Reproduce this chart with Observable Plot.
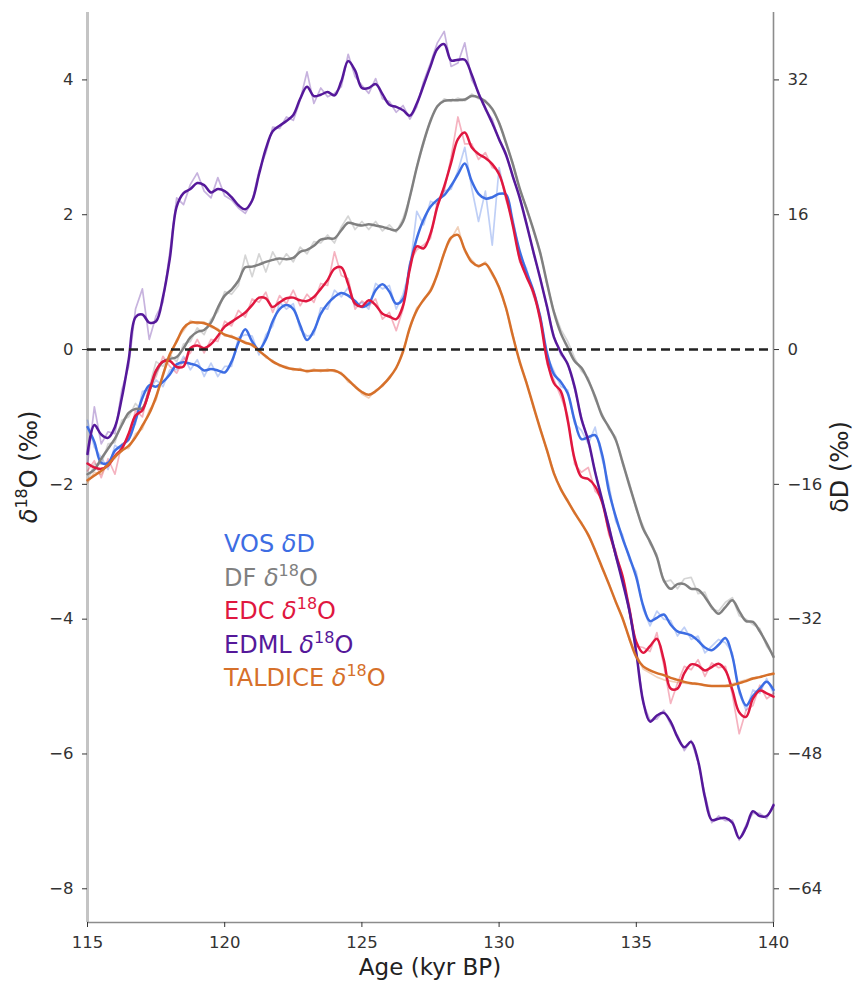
<!DOCTYPE html>
<html><head><meta charset="utf-8">
<script src="https://cdn.jsdelivr.net/npm/d3@7"></script>
<script src="https://cdn.jsdelivr.net/npm/@observablehq/plot@0.6"></script>
<style>body{margin:0;background:#fff;} svg{display:block}</style>
</head><body><div id="chart"></div>
<script>
// Age grid (kyr BP)
const ages = [
 115,115.25,115.5,115.75,116,116.25,116.5,116.75,117,117.25,
 117.5,117.75,118,118.25,118.5,118.75,119,119.25,119.5,119.75,
 120,120.25,120.5,120.75,121,121.25,121.5,121.75,122,122.25,
 122.5,122.75,123,123.25,123.5,123.75,124,124.25,124.5,124.75,
 125,125.25,125.5,125.75,126,126.25,126.5,126.75,127,127.25,
 127.5,127.75,128,128.25,128.5,128.75,129,129.25,129.5,129.75,
 130,130.25,130.5,130.75,131,131.25,131.5,131.75,132,132.25,
 132.5,132.75,133,133.25,133.5,133.75,134,134.25,134.5,134.75,
 135,135.25,135.5,135.75,136,136.25,136.5,136.75,137,137.25,
 137.5,137.75,138,138.25,138.5,138.75,139,139.25,139.5,139.75,
 140];

// VOS δD (scaled to δ18O units), smoothed and raw
const vosSmooth = [
 -1.15,-1.37,-1.68,-1.68,-1.50,-1.42,-1.33,-1.05,-0.72,-0.53,
 -0.55,-0.48,-0.37,-0.22,-0.19,-0.21,-0.24,-0.31,-0.29,-0.31,
 -0.34,-0.18,0.10,0.30,0.12,0.00,0.15,0.42,0.60,0.66,
 0.60,0.36,0.14,0.28,0.53,0.68,0.78,0.84,0.80,0.72,
 0.63,0.68,0.88,0.97,0.86,0.68,0.75,1.25,1.65,1.93,
 2.12,2.22,2.29,2.43,2.60,2.76,2.50,2.31,2.24,2.26,
 2.31,2.30,1.88,1.46,1.15,0.87,0.48,-0.06,-0.37,-0.48,
 -0.65,-1.05,-1.33,-1.30,-1.27,-1.55,-2.10,-2.48,-2.80,-3.08,
 -3.38,-3.80,-4.03,-3.98,-3.93,-4.08,-4.18,-4.21,-4.24,-4.32,
 -4.42,-4.46,-4.38,-4.28,-4.55,-5.05,-5.28,-5.14,-5.03,-4.93,
 -5.05];
const vosRaw = [
 -1.05,-1.45,-1.60,-1.78,-1.42,-1.50,-1.25,-1.10,-0.62,-0.60,
 -0.45,-0.55,-0.30,-0.30,-0.10,-0.30,-0.15,-0.40,-0.20,-0.40,
 -0.25,-0.25,0.18,0.22,0.20,-0.08,0.22,0.35,0.70,0.60,
 0.68,0.30,0.20,0.22,0.62,0.60,0.88,0.78,0.92,0.65,
 0.70,0.60,0.98,0.90,0.95,0.60,0.82,1.20,2.05,1.85,
 2.20,2.15,2.35,2.38,2.65,3.00,2.40,1.90,2.35,1.55,
 2.70,2.25,1.95,1.40,1.20,0.82,0.52,-0.10,-0.32,-0.55,
 -0.60,-1.10,-1.20,-1.40,-1.15,-1.62,-2.00,-2.55,-2.75,-3.12,
 -3.30,-3.85,-4.10,-3.88,-4.00,-4.02,-4.25,-4.12,-4.30,-4.25,
 -4.50,-4.40,-4.30,-4.35,-4.50,-5.10,-5.35,-5.05,-5.10,-4.88,
 -5.10];

// DF δ18O
const dfSmooth = [
 -1.85,-1.78,-1.62,-1.47,-1.32,-1.12,-0.94,-0.88,-0.87,-0.62,
 -0.33,-0.18,-0.14,-0.11,0.02,0.18,0.26,0.29,0.40,0.62,
 0.80,0.89,1.02,1.22,1.23,1.26,1.30,1.33,1.35,1.34,
 1.36,1.45,1.48,1.54,1.63,1.65,1.65,1.77,1.88,1.86,
 1.84,1.86,1.84,1.82,1.79,1.77,1.90,2.27,2.70,3.08,
 3.39,3.61,3.69,3.70,3.70,3.71,3.76,3.74,3.68,3.57,
 3.36,3.07,2.75,2.39,2.09,1.78,1.43,0.98,0.55,0.24,
 0.03,-0.17,-0.27,-0.46,-0.70,-0.98,-1.15,-1.34,-1.67,-2.02,
 -2.35,-2.66,-2.85,-3.08,-3.42,-3.55,-3.48,-3.48,-3.55,-3.56,
 -3.67,-3.82,-3.92,-3.82,-3.72,-3.88,-4.03,-4.04,-4.18,-4.36,
 -4.56];
const dfRaw = [
 -1.95,-1.70,-1.70,-1.40,-1.38,-1.05,-1.00,-0.80,-0.92,-0.55,
 -0.18,-0.25,-0.08,-0.18,0.08,0.12,0.32,0.22,0.45,0.56,
 0.86,0.82,0.95,1.40,1.08,1.42,1.15,1.45,1.26,1.42,
 1.30,1.52,1.42,1.60,1.58,1.70,1.58,1.82,1.98,1.78,
 1.90,1.78,1.90,1.76,1.85,1.74,1.95,2.25,2.72,3.05,
 3.42,3.60,3.72,3.68,3.73,3.69,3.79,3.72,3.70,3.55,
 3.38,3.05,2.77,2.37,2.11,1.76,1.45,0.96,0.57,0.30,
 0.12,-0.12,-0.32,-0.42,-0.74,-0.95,-1.18,-1.30,-1.70,-1.98,
 -2.38,-2.62,-2.88,-3.04,-3.45,-3.42,-3.55,-3.40,-3.38,-3.62,
 -3.60,-3.85,-3.88,-3.75,-3.68,-3.95,-4.00,-4.08,-4.14,-4.40,
 -4.54];

// EDC δ18O
const edcSmooth = [
 -1.69,-1.75,-1.77,-1.72,-1.58,-1.47,-1.25,-0.98,-0.90,-0.62,
 -0.31,-0.18,-0.17,-0.26,-0.25,0.02,0.06,0.02,0.08,0.20,
 0.34,0.41,0.48,0.55,0.66,0.77,0.76,0.63,0.70,0.76,
 0.77,0.73,0.72,0.78,0.90,1.03,1.20,1.22,0.97,0.68,
 0.64,0.73,0.66,0.53,0.49,0.45,0.65,1.20,1.53,1.50,
 1.72,2.12,2.42,2.77,3.12,3.22,3.00,2.90,2.84,2.75,
 2.60,2.28,1.84,1.35,1.08,0.85,0.44,-0.16,-0.50,-0.62,
 -1.05,-1.62,-1.89,-1.92,-2.03,-2.26,-2.68,-3.04,-3.36,-3.86,
 -4.34,-4.50,-4.40,-4.29,-4.60,-5.03,-5.03,-4.80,-4.67,-4.69,
 -4.76,-4.71,-4.66,-4.76,-5.05,-5.38,-5.45,-5.18,-5.06,-5.10,
 -5.15];
const edcRaw = [
 -1.80,-1.65,-1.90,-1.62,-1.85,-1.40,-1.35,-0.90,-1.00,-0.55,
 -0.40,-0.10,-0.25,-0.35,-0.15,-0.05,0.15,-0.05,0.15,0.12,
 0.42,0.35,0.58,0.48,0.75,0.70,0.85,0.55,0.80,0.68,
 0.88,0.65,0.82,0.70,0.98,0.95,1.45,1.10,1.05,0.60,
 0.72,0.65,0.75,0.45,0.55,0.28,0.60,1.30,1.48,1.55,
 1.65,2.20,2.35,2.85,3.45,3.05,3.05,2.82,2.92,2.70,
 2.65,2.22,1.90,1.30,1.12,0.80,0.50,-0.22,-0.45,-0.70,
 -0.98,-1.70,-1.82,-1.75,-2.10,-2.20,-2.75,-2.98,-3.42,-3.80,
 -4.40,-4.42,-4.48,-4.20,-4.68,-5.25,-4.95,-4.70,-4.75,-4.60,
 -4.85,-4.65,-4.72,-4.70,-5.12,-5.70,-5.35,-5.28,-4.98,-5.18,
 -5.10];

// EDML δ18O
const edmlSmooth = [
 -1.55,-1.12,-1.26,-1.31,-1.15,-0.72,-0.15,0.48,0.52,0.40,
 0.42,0.78,1.35,2.12,2.32,2.38,2.47,2.44,2.33,2.38,
 2.35,2.26,2.14,2.08,2.21,2.60,2.98,3.24,3.32,3.39,
 3.48,3.72,3.90,3.76,3.78,3.82,3.77,3.98,4.28,4.14,
 3.88,3.88,3.94,3.79,3.63,3.60,3.55,3.47,3.65,3.92,
 4.20,4.46,4.53,4.29,4.30,4.30,4.08,3.80,3.58,3.36,
 3.12,2.89,2.57,2.25,1.86,1.45,1.05,0.63,0.18,-0.04,
 -0.22,-0.55,-1.03,-1.35,-1.82,-2.22,-2.63,-3.05,-3.45,-3.88,
 -4.50,-5.22,-5.52,-5.43,-5.39,-5.52,-5.75,-5.90,-5.82,-6.10,
 -6.64,-6.98,-6.96,-6.95,-7.02,-7.25,-7.09,-6.85,-6.92,-6.92,
 -6.76];
const edmlRaw = [
 -1.70,-0.85,-1.40,-1.22,-1.25,-0.60,-0.25,0.60,0.90,0.15,
 0.50,0.70,1.45,2.25,2.15,2.45,2.62,2.35,2.25,2.55,
 2.28,2.22,2.10,2.02,2.20,2.65,2.92,3.30,3.28,3.45,
 3.40,3.70,4.12,3.65,3.88,3.75,3.80,3.90,4.38,4.05,
 3.92,3.80,4.02,3.72,3.68,3.52,3.62,3.42,3.60,3.98,
 4.25,4.55,4.72,4.20,4.25,4.55,4.00,3.82,3.55,3.42,
 3.10,2.92,2.55,2.28,1.88,1.42,1.07,0.60,0.20,-0.08,
 -0.20,-0.58,-1.00,-1.38,-1.80,-2.25,-2.60,-3.08,-3.42,-3.90,
 -4.48,-5.25,-5.50,-5.48,-5.35,-5.56,-5.72,-5.95,-5.80,-6.12,
 -6.60,-7.02,-6.92,-6.99,-6.98,-7.28,-7.05,-6.88,-6.88,-6.96,
 -6.74];

// TALDICE δ18O
const talSmooth = [
 -1.94,-1.87,-1.80,-1.71,-1.59,-1.50,-1.43,-1.30,-1.13,-0.95,
 -0.70,-0.38,-0.07,0.12,0.32,0.40,0.40,0.39,0.35,0.29,
 0.22,0.19,0.15,0.10,0.07,-0.02,-0.10,-0.18,-0.23,-0.27,
 -0.29,-0.30,-0.32,-0.31,-0.31,-0.31,-0.31,-0.36,-0.45,-0.55,
 -0.63,-0.67,-0.62,-0.53,-0.42,-0.27,-0.03,0.33,0.58,0.74,
 0.87,1.12,1.43,1.66,1.70,1.48,1.30,1.24,1.27,1.13,
 0.92,0.62,0.20,-0.18,-0.50,-0.84,-1.18,-1.50,-1.84,-2.07,
 -2.25,-2.42,-2.58,-2.75,-2.98,-3.23,-3.48,-3.74,-3.99,-4.29,
 -4.56,-4.70,-4.76,-4.80,-4.83,-4.87,-4.90,-4.93,-4.95,-4.96,
 -4.98,-4.99,-4.99,-4.99,-4.98,-4.95,-4.92,-4.88,-4.86,-4.83,
 -4.81];
const talRaw = [
 -1.98,-1.82,-1.85,-1.66,-1.62,-1.46,-1.47,-1.25,-1.18,-0.90,
 -0.75,-0.35,-0.12,0.15,0.28,0.43,0.38,0.41,0.33,0.31,
 0.20,0.21,0.13,0.12,0.05,0.00,-0.12,-0.16,-0.25,-0.25,
 -0.31,-0.28,-0.34,-0.29,-0.33,-0.29,-0.33,-0.34,-0.48,-0.53,
 -0.66,-0.72,-0.60,-0.55,-0.40,-0.29,0.00,0.30,0.62,0.72,
 0.90,1.10,1.46,1.64,1.82,1.45,1.33,1.22,1.30,1.10,
 0.94,0.60,0.22,-0.20,-0.48,-0.86,-1.16,-1.52,-1.82,-2.09,
 -2.23,-2.44,-2.56,-2.77,-2.96,-3.25,-3.46,-3.76,-3.97,-4.31,
 -4.52,-4.74,-4.80,-4.86,-4.90,-4.92,-4.94,-4.95,-4.96,-4.97,
 -4.98,-4.99,-4.99,-4.98,-4.96,-4.93,-4.90,-4.87,-4.85,-4.83,
 -4.80];

const seriesKeys = ["VOS", "DF", "EDC", "EDML", "TALDICE"];
const seriesColors = ["#3d6de3", "#808080", "#e0173f", "#55189a", "#d6702a"];
const legendPrefix = ["VOS ", "DF ", "EDC ", "EDML ", "TALDICE "];
const legendIsotope = ["D", "18O", "18O", "18O", "18O"];

const xTicks = [115, 120, 125, 130, 135, 140];
const yTicks = [4, 2, 0, -2, -4, -6, -8];
const yRightTickLabels = ["32", "16", "0", "−16", "−32", "−48", "−64"];

const smoothArrays = [vosSmooth, dfSmooth, edcSmooth, edmlSmooth, talSmooth];
const rawArrays = [vosRaw, dfRaw, edcRaw, edmlRaw, talRaw];

const W = 853, H = 981;
const mL = 87, mR = 80, mT = 12, mB = 59;
const font = "DejaVu Sans";

const tables = seriesKeys.map((k, si) => ages.map((a, i) => ({
  age: a, smooth: smoothArrays[si][i], raw: rawArrays[si][i], series: k
})));

const marks = [];
// spines
marks.push(Plot.ruleX([115], {stroke: "#c4c4c4", strokeWidth: 3}));
marks.push(Plot.ruleX([140], {stroke: "#8c8c8c", strokeWidth: 1.6}));
marks.push(Plot.ruleY([-8.5], {stroke: "#8c8c8c", strokeWidth: 1.6}));
// raw faint lines
tables.forEach((t, si) => marks.push(Plot.line(t, {
  x: "age", y: "raw", stroke: seriesColors[si], strokeOpacity: 0.33, strokeWidth: 1.7
})));
// smoothed lines
tables.forEach((t, si) => marks.push(Plot.line(t, {
  x: "age", y: "smooth", stroke: seriesColors[si], strokeWidth: 2.5, curve: "catmull-rom"
})));
// zero line
marks.push(Plot.ruleY([0], {stroke: "#222", strokeWidth: 2.6, strokeDasharray: "9,5"}));
// axes
marks.push(Plot.axisX({ticks: xTicks, tickSize: 5, tickPadding: 9, fontSize: 16.5, color: "#333", label: null, tickFormat: d => String(d)}));
marks.push(Plot.axisY({anchor: "left", ticks: yTicks, tickSize: 5, tickPadding: 9, fontSize: 16.5, color: "#333", label: null}));
marks.push(Plot.axisY({anchor: "right", ticks: yTicks, tickSize: 5, tickPadding: 9, fontSize: 16.5, color: "#333", label: null,
  tickFormat: d => yRightTickLabels[yTicks.indexOf(d)]}));

const svg = Plot.plot({
  width: W, height: H,
  marginLeft: mL, marginRight: mR, marginTop: mT, marginBottom: mB,
  style: {fontFamily: font, background: "white"},
  x: {domain: [115, 140]},
  y: {domain: [-8.5, 5]},
  marks
});

const s = d3.select(svg);
// x label
s.append("text").attr("x", 430).attr("y", 975).attr("text-anchor", "middle")
  .attr("font-family", font).attr("font-size", 23).attr("fill", "#222").text("Age (kyr BP)");
// left y label
const yl = s.append("text").attr("transform", "translate(37,467) rotate(-90)").attr("text-anchor", "middle")
  .attr("font-family", font).attr("font-size", 24).attr("fill", "#222");
yl.append("tspan").attr("font-style", "italic").text("δ");
yl.append("tspan").attr("font-size", 16).attr("dy", -10).text("18");
yl.append("tspan").attr("dy", 10).text("O (‰)");
// right y label
const yr = s.append("text").attr("transform", "translate(848,467) rotate(-90)").attr("text-anchor", "middle")
  .attr("font-family", font).attr("font-size", 24).attr("fill", "#222");
yr.append("tspan").text("δD (‰)");
// legend
const legY0 = 552, legDy = 33.6, legX = 224;
seriesKeys.forEach((k, i) => {
  const t = s.append("text").attr("x", legX).attr("y", legY0 + i * legDy).attr("text-anchor", "start")
    .attr("font-family", font).attr("font-size", 24).attr("fill", seriesColors[i]);
  t.append("tspan").text(legendPrefix[i]);
  t.append("tspan").attr("font-style", "italic").text("δ");
  if (legendIsotope[i] === "D") {
    t.append("tspan").text("D");
  } else {
    t.append("tspan").attr("font-size", 16).attr("dy", -10).text("18");
    t.append("tspan").attr("dy", 10).text("O");
  }
});

document.getElementById("chart").appendChild(svg);
</script>
</body></html>
